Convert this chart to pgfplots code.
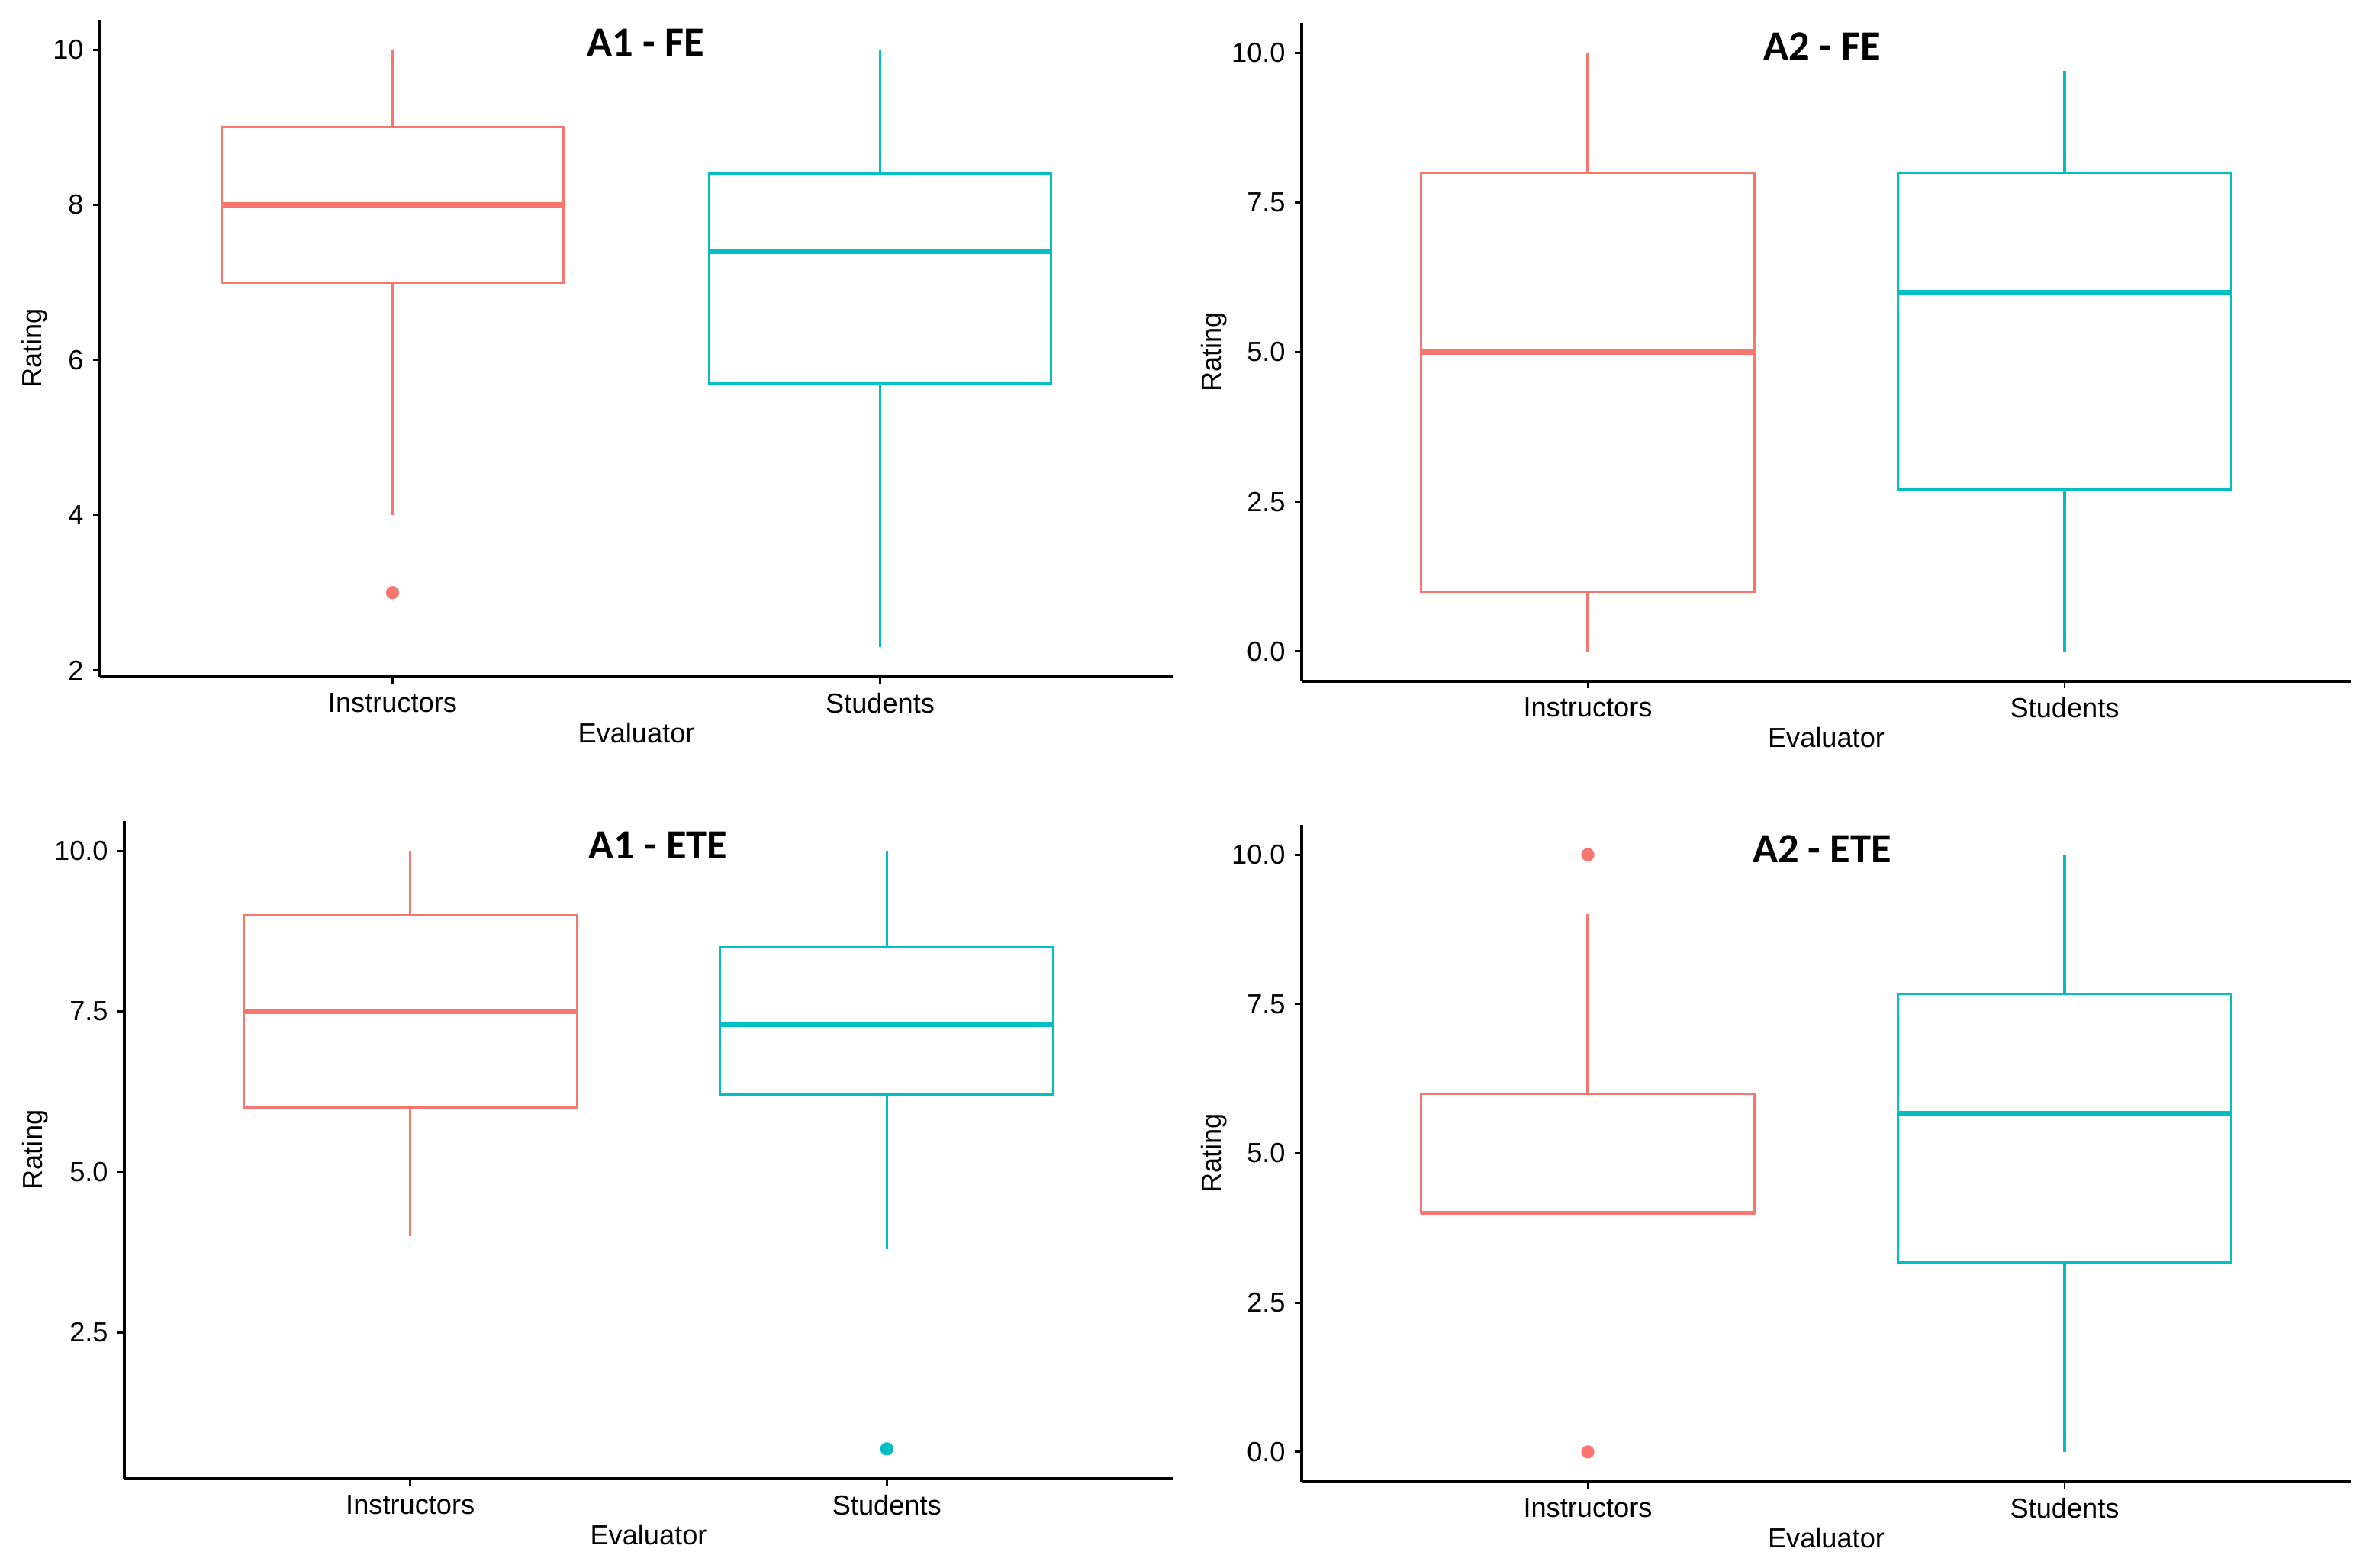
\documentclass[border=0pt]{standalone}
\usepackage{pgfplots}
\pgfplotsset{compat=1.18}
\usepgfplotslibrary{statistics}
\usepackage{fontspec}
\setmainfont{Liberation Sans}
\newfontfamily\titlefont{Carlito}

\definecolor{instr}{HTML}{F8766D}
\definecolor{stud}{HTML}{00BFC4}

\tikzset{ptitle/.style={font={\fontsize{15.5}{18}\titlefont\bfseries}, anchor=center}}

\pgfplotsset{
  panel/.style={
    anchor=south west, scale only axis,
    xmin=0.4, xmax=2.6,
    axis lines=left,
    axis line style={-, line width=1pt},
    tick align=outside,
    tick style={black, line width=0.8pt},
    major tick length=0.09cm,
    xtick={1,2}, xticklabels={Instructors,Students},
    xlabel={Evaluator}, ylabel={Rating},
    tick label style={font=\fontsize{10.3}{12}\selectfont},
    label style={font=\fontsize{10.3}{12}\selectfont},
    /pgf/number format/assume math mode=true,
    xlabel style={at={([yshift=-0.74cm]axis description cs:0.5,0)}, anchor=center},
    boxplot/draw direction=y,
    boxplot/box extend=0.7,
    boxplot/whisker extend=0,
    boxplot/every median/.style={line width=1.8pt},
  },
  onedec/.style={yticklabel style={/pgf/number format/.cd, fixed, fixed zerofill, precision=1}},
  ins/.style={instr, line width=0.9pt, mark=*, mark size=2pt},
  stu/.style={stud, line width=0.9pt, mark=*, mark size=2pt},
}

\begin{document}
\begin{tikzpicture}
\useasboundingbox (0,0) rectangle (31.01,20.54);

% A1 - FE
\begin{axis}[panel, at={(1.31cm,11.67cm)}, width=14.06cm, height=8.61cm,
  ymin=1.915, ymax=10.385, ytick={2,4,6,8,10},
  ylabel style={at={([xshift=-0.86cm]axis description cs:0,0.5)}, anchor=center}]
  \addplot[ins, boxplot prepared={draw position=1, median=8, upper quartile=9,
    lower quartile=7, upper whisker=10, lower whisker=4}] coordinates {(0,3)};
  \addplot[stu, boxplot prepared={draw position=2, median=7.4, upper quartile=8.4,
    lower quartile=5.7, upper whisker=10, lower whisker=2.3}] coordinates {};
  \node[ptitle] at (axis description cs:0.509,0.965) {A1 - FE};
\end{axis}

% A2 - FE
\begin{axis}[panel, onedec, at={(17.06cm,11.61cm)}, width=13.75cm, height=8.63cm,
  ymin=-0.5, ymax=10.5, ytick={0,2.5,5,7.5,10},
  ylabel style={at={([xshift=-1.15cm]axis description cs:0,0.5)}, anchor=center}]
  \addplot[ins, boxplot prepared={draw position=1, median=5, upper quartile=8,
    lower quartile=1, upper whisker=10, lower whisker=0}] coordinates {};
  \addplot[stu, boxplot prepared={draw position=2, median=6, upper quartile=8,
    lower quartile=2.7, upper whisker=9.7, lower whisker=0}] coordinates {};
  \node[ptitle] at (axis description cs:0.496,0.965) {A2 - FE};
\end{axis}

% A1 - ETE
\begin{axis}[panel, onedec, at={(1.63cm,1.16cm)}, width=13.74cm, height=8.62cm,
  ymin=0.2245, ymax=10.4655, ytick={2.5,5,7.5,10},
  ylabel style={at={([xshift=-1.17cm]axis description cs:0,0.5)}, anchor=center}]
  \addplot[ins, boxplot prepared={draw position=1, median=7.5, upper quartile=9,
    lower quartile=6, upper whisker=10, lower whisker=4}] coordinates {};
  \addplot[stu, boxplot prepared={draw position=2, median=7.3, upper quartile=8.5,
    lower quartile=6.2, upper whisker=10, lower whisker=3.8}] coordinates {(0,0.69)};
  \node[ptitle] at (axis description cs:0.509,0.963) {A1 - ETE};
\end{axis}

% A2 - ETE
\begin{axis}[panel, onedec, at={(17.06cm,1.12cm)}, width=13.75cm, height=8.61cm,
  ymin=-0.5, ymax=10.5, ytick={0,2.5,5,7.5,10},
  ylabel style={at={([xshift=-1.15cm]axis description cs:0,0.5)}, anchor=center}]
  \addplot[ins, boxplot prepared={draw position=1, median=4, upper quartile=6,
    lower quartile=4, upper whisker=9, lower whisker=4}] coordinates {(0,0) (0,10)};
  \addplot[stu, boxplot prepared={draw position=2, median=5.67, upper quartile=7.67,
    lower quartile=3.17, upper whisker=10, lower whisker=0}] coordinates {};
  \node[ptitle] at (axis description cs:0.496,0.963) {A2 - ETE};
\end{axis}
\end{tikzpicture}
\end{document}
